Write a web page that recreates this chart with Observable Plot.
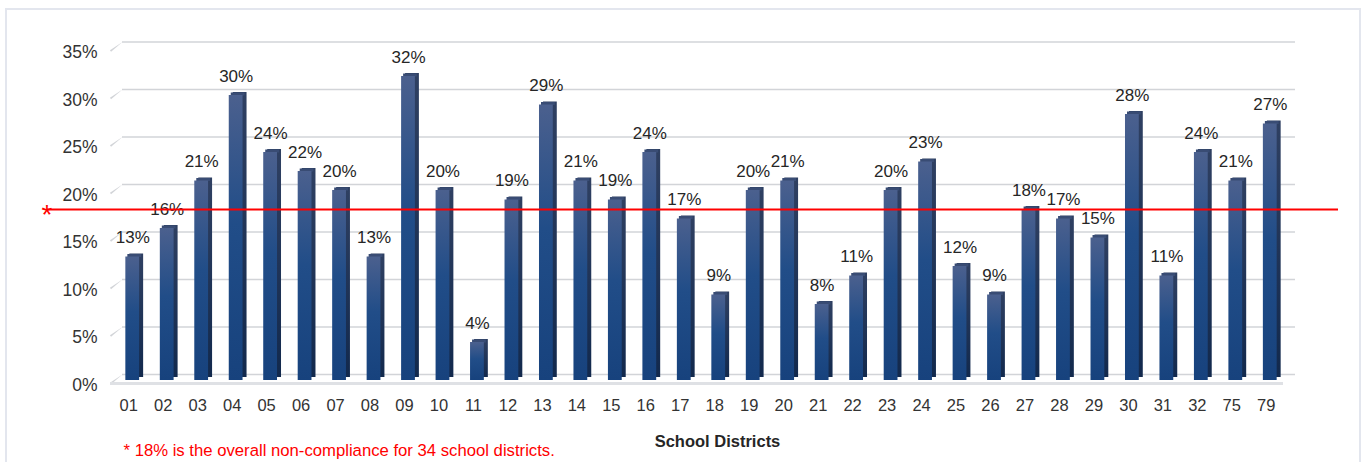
<!DOCTYPE html>
<html>
<head>
<meta charset="utf-8">
<script src="https://cdn.jsdelivr.net/npm/d3@7"></script>
<script src="https://cdn.jsdelivr.net/npm/@observablehq/plot@0.6"></script>
<style>
  html, body { margin: 0; padding: 0; background: #fff; }
  #wrap { position: relative; width: 1362px; height: 462px; overflow: hidden; }
  #border { position: absolute; left: 5px; top: 8px; width: 1352px; height: 470px;
            border: 2px solid #e3e6ee; pointer-events: none; }
  svg { display: block; }
</style>
</head>
<body>
<div id="wrap"><div id="border"></div></div>
<script>
const districts = ["01","02","03","04","05","06","07","08","09","10","11","12","13","14","15","16","17",
                   "18","19","20","21","22","23","24","25","26","27","28","29","30","31","32","75","79"];
const rates = [13,16,21,30,24,22,20,13,32,20,4,19,29,21,19,24,17,9,20,21,8,11,20,23,12,9,18,17,15,28,11,24,21,27];
const yTicks = [0,5,10,15,20,25,30,35];
const overall = 18;
const xTitle = "School Districts";
const note = "* 18% is the overall non-compliance for 34 school districts.";

const data = districts.map((d, i) => ({district: d, rate: rates[i]}));

const chart = Plot.plot({
  width: 1362,
  height: 462,
  marginLeft: 115,
  marginRight: 75,
  marginTop: 47.5,
  marginBottom: 82,
  style: {fontFamily: "'Liberation Sans', Arial, sans-serif", fontSize: "16px", color: "#333", background: "transparent"},
  x: {type: "band", domain: districts, paddingInner: 0.6, paddingOuter: 0.3, round: false},
  y: {domain: [0, 35]},
  marks: [
    Plot.ruleY(yTicks, {y: d => d, dy: -6, insetLeft: 7, insetRight: -8, stroke: "#d2d4d8", strokeWidth: 1.5}),
    Plot.vector(yTicks, {y: d => d, frameAnchor: "left", dx: -5, dy: 3, length: 15, rotate: 53,
                         anchor: "start", shape: "spike", r: 0.9, fill: "#d2d4d8", stroke: "none"}),
    Plot.ruleY([0], {dy: 3, insetLeft: -5, insetRight: 4, stroke: "#dfe1e5", strokeWidth: 3}),
    Plot.barY(data, {x: "district", y: "rate", dx: 4, dy: -3, fill: "url(#sideGrad)"}),
    Plot.tickY(data, {x: "district", y: "rate", dx: 2, dy: -1.5, stroke: "#394c74", strokeWidth: 3}),
    Plot.barY(data, {x: "district", y: "rate", fill: "url(#barGrad)"}),
    Plot.text(data, {x: "district", y: "rate", text: d => d.rate + "%", dy: -19, fontSize: 17, fill: "#262626"}),
    Plot.ruleY([overall], {y: d => d, stroke: "#ff0000", strokeWidth: 2, insetLeft: -68, insetRight: -51}),
    Plot.text([overall], {y: d => d, text: () => "*", frameAnchor: "left", dx: -74, dy: 6, fontSize: 28, fill: "#ff0000"}),
    Plot.axisY({ticks: yTicks, tickFormat: d => d + "%", tickSize: 0, tickPadding: 18, dy: 4.5, fontSize: 17.5, fill: "#333", label: null}),
    Plot.axisX({tickSize: 0, tickPadding: 19, dx: -4, fontSize: 16.5, fill: "#333", label: null}),
    Plot.text([xTitle], {frameAnchor: "bottom", dx: 16, dy: 66, fontSize: 16.5, fontWeight: "bold", fill: "#262626"}),
    Plot.text([note], {frameAnchor: "bottom-left", textAnchor: "start", dx: 8, dy: 75, fontSize: 16.7, fill: "#ff0000"})
  ]
});

const svg = d3.select(chart.tagName.toLowerCase() === "svg" ? chart : chart.querySelector("svg"));
const defs = svg.insert("defs", ":first-child");
const grad = defs.append("linearGradient")
  .attr("id", "barGrad").attr("x1", 0).attr("y1", 0).attr("x2", 0).attr("y2", 1);
grad.append("stop").attr("offset", "0").attr("stop-color", "#4b608e");
grad.append("stop").attr("offset", "0.45").attr("stop-color", "#214d88");
grad.append("stop").attr("offset", "1").attr("stop-color", "#17427d");
const side = defs.append("linearGradient")
  .attr("id", "sideGrad").attr("x1", 0).attr("y1", 0).attr("x2", 0).attr("y2", 1);
side.append("stop").attr("offset", "0").attr("stop-color", "#2f4062");
side.append("stop").attr("offset", "1").attr("stop-color", "#12294d");

document.getElementById("wrap").prepend(chart);
</script>
</body>
</html>
